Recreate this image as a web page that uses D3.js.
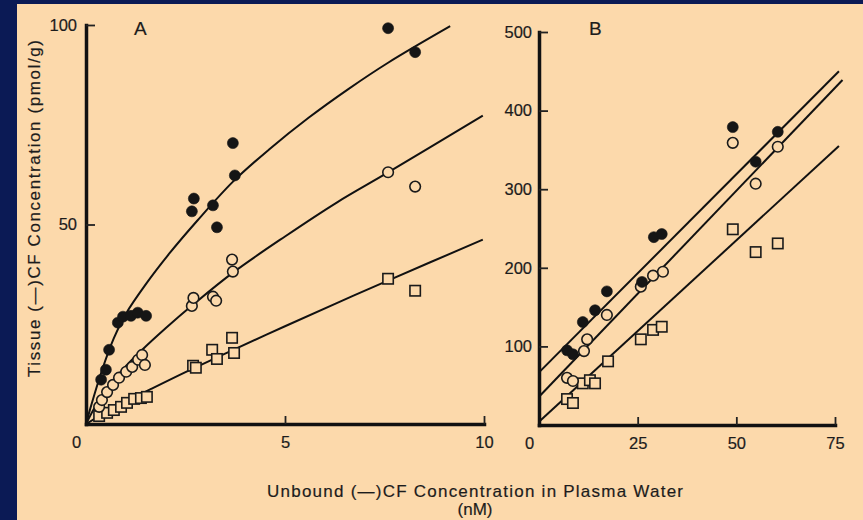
<!DOCTYPE html>
<html>
<head>
<meta charset="utf-8">
<script src="https://cdn.jsdelivr.net/npm/d3@7"></script>
<style>
  html, body { margin: 0; padding: 0; background: #0b1a55; }
  svg { display: block; }
  text { font-family: "Liberation Sans", Arial, sans-serif; fill: #1c1c1c; }
</style>
</head>
<body>
<div id="chart"></div>
<script>
// ---------- DATA ----------
// Panel A (x: unbound conc nM, y: tissue conc pmol/g)
const aFilledX = [0.38, 0.50, 0.58, 0.80, 0.93, 1.13, 1.30, 1.51, 2.66, 2.71, 3.19, 3.29, 3.69, 3.74, 7.59, 8.27];
const aFilledY = [11.1, 13.6, 18.6, 25.4, 26.9, 27.1, 27.9, 27.1, 53.3, 56.5, 54.8, 49.3, 70.4, 62.3, 99.2, 93.2];
const aOpenX = [0.33, 0.40, 0.53, 0.68, 0.83, 1.01, 1.16, 1.31, 1.41, 1.48, 2.66, 2.70, 3.19, 3.27, 3.67, 3.69, 7.59, 8.27];
const aOpenY = [4.3, 6.0, 8.0, 9.8, 11.6, 13.1, 14.3, 16.1, 17.3, 14.8, 29.6, 31.6, 31.9, 30.9, 41.2, 38.2, 63.1, 59.5];
const aSquareX = [0.33, 0.53, 0.70, 0.88, 1.03, 1.21, 1.38, 1.53, 2.69, 2.76, 3.17, 3.29, 3.67, 3.72, 7.59, 8.27];
const aSquareY = [2.0, 2.8, 3.5, 4.3, 5.3, 6.3, 6.5, 6.8, 14.6, 14.1, 18.6, 16.3, 21.6, 17.8, 36.4, 33.4];

// Fitted curves in panel A
const aFilledCurveX = [0, 0.1, 0.4, 0.7, 1.0, 1.5, 2.1, 2.8, 3.7, 4.6, 5.6, 6.6, 7.6, 9.15];
const aFilledCurveY = [0, 3.6, 13.4, 21.5, 27.6, 35.0, 42.8, 51.0, 60.8, 68.8, 76.8, 84.0, 90.6, 99.7];
const aOpenCurveX = [0, 0.3, 0.7, 1.0, 1.4, 2.0, 2.7, 3.7, 5.0, 6.3, 7.6, 9.97];
const aOpenCurveY = [0, 5.5, 11.0, 14.5, 18.5, 24.0, 30.0, 38.0, 47.0, 55.5, 63.1, 77.3];
const aSquareCurveX = [0, 0.5, 1.0, 1.6, 2.5, 3.7, 5.0, 6.3, 7.6, 9.97];
const aSquareCurveY = [0, 2.9, 5.6, 8.6, 13.0, 18.6, 24.5, 30.3, 36.0, 46.2];

// Panel B
const bFilledX = [7.1, 8.6, 11.1, 14.2, 17.2, 26.1, 29.1, 31.1, 49.1, 54.9, 60.5];
const bFilledY = [95, 90, 131, 146, 170, 182, 239, 243, 379, 335, 373];
const bOpenX = [7.1, 8.6, 11.4, 12.2, 17.2, 25.8, 28.9, 31.4, 49.1, 54.9, 60.5];
const bOpenY = [60, 56, 94, 109, 140, 176, 190, 195, 359, 307, 354];
const bSquareX = [7.1, 8.6, 11.1, 12.9, 14.2, 17.5, 25.8, 28.9, 31.1, 49.1, 54.9, 60.5];
const bSquareY = [33, 28, 53, 57, 53, 81, 109, 121, 125, 249, 220, 231];

// Regression lines in panel B: [start, end]
const bFilledLineX = [0, 76.0];
const bFilledLineY = [67, 450];
const bOpenLineX = [0, 76.9];
const bOpenLineY = [36, 439];
const bSquareLineX = [0, 76.0];
const bSquareLineY = [4, 355];

// Ticks and labels
const aXTicks = [0, 5, 10];
const aYTicks = [50, 100];
const bXTicks = [0, 25, 50, 75];
const bYTicks = [100, 200, 300, 400, 500];
const panelLabels = ["A", "B"];
const yTitle = "Tissue (\u2014)CF Concentration (pmol/g)";
const xTitle1 = "Unbound (\u2014)CF Concentration in Plasma Water";
const xTitle2 = "(nM)";

// ---------- DRAWING ----------
const W = 863, H = 520;
const BG = "#fcd9ab";
const INK = "#1e1e1e";
const svg = d3.select("#chart").append("svg").attr("width", W).attr("height", H);
svg.append("rect").attr("width", W).attr("height", H).attr("fill", "#0b1a55");
svg.append("rect").attr("x", 17).attr("y", 4).attr("width", W - 17).attr("height", H - 4).attr("fill", BG);

const xA = d3.scaleLinear().domain([0, 10]).range([86, 484]);
const yA = d3.scaleLinear().domain([0, 100]).range([424, 25]);
const xB = d3.scaleLinear().domain([0, 75]).range([539, 835]);
const yB = d3.scaleLinear().domain([0, 500]).range([425, 32]);

const zip = (xs, ys) => xs.map((x, i) => [x, ys[i]]);

function inkText(sel) {
  return sel.attr("fill", INK).attr("stroke", INK).attr("stroke-width", 0.2)
    .style("font-family", "'Liberation Sans', Arial, sans-serif");
}

function styleAxis(g, zeroShift) {
  g.select(".domain").attr("stroke", "#111").attr("stroke-width", 3.5).attr("stroke-linecap", "square");
  g.selectAll(".tick line").attr("stroke", "#222").attr("stroke-width", 1.8);
  inkText(g.selectAll(".tick text").attr("font-size", 16.5));
  if (zeroShift) {
    g.selectAll(".tick").filter(d => d === 0).select("line").remove();
    g.selectAll(".tick").filter(d => d === 0).select("text").attr("dx", zeroShift);
  }
}

function drawPanel(xs, ys, xTicks, yTicks, yPad, curves, lines, series, label, labelX) {
  const gx = svg.append("g").attr("transform", `translate(0,${ys(0)})`)
    .call(d3.axisBottom(xs).tickValues(xTicks).tickFormat(d3.format("d"))
      .tickSizeInner(-8).tickSizeOuter(0).tickPadding(12));
  styleAxis(gx, -10);
  const gy = svg.append("g").attr("transform", `translate(${xs(0)},0)`)
    .call(d3.axisLeft(ys).tickValues(yTicks).tickFormat(d3.format("d"))
      .tickSizeInner(-9).tickSizeOuter(0).tickPadding(yPad));
  styleAxis(gy, null);

  curves.forEach(c => {
    svg.append("path").datum(c)
      .attr("d", d3.line().x(d => xs(d[0])).y(d => ys(d[1])).curve(d3.curveCatmullRom.alpha(0.5)))
      .attr("fill", "none").attr("stroke", "#111").attr("stroke-width", 2);
  });
  lines.forEach(c => {
    svg.append("path").datum(c)
      .attr("d", d3.line().x(d => xs(d[0])).y(d => ys(d[1])))
      .attr("fill", "none").attr("stroke", "#111").attr("stroke-width", 2);
  });

  // squares
  svg.append("g").selectAll("rect").data(series.square).join("rect")
    .attr("x", d => xs(d[0]) - 5.2).attr("y", d => ys(d[1]) - 5.2)
    .attr("width", 10.4).attr("height", 10.4)
    .attr("fill", BG).attr("stroke", "#1a1a1a").attr("stroke-width", 1.6);
  // open circles
  svg.append("g").selectAll("circle").data(series.open).join("circle")
    .attr("cx", d => xs(d[0])).attr("cy", d => ys(d[1])).attr("r", 5.3)
    .attr("fill", BG).attr("stroke", "#1a1a1a").attr("stroke-width", 1.6);
  // filled circles
  svg.append("g").selectAll("circle").data(series.filled).join("circle")
    .attr("cx", d => xs(d[0])).attr("cy", d => ys(d[1])).attr("r", 5.5)
    .attr("fill", "#151515").attr("stroke", "#151515").attr("stroke-width", 0.6);

  inkText(svg.append("text").attr("x", labelX).attr("y", 35).attr("font-size", 19).text(label));
}

drawPanel(xA, yA, aXTicks, aYTicks, 9,
  [zip(aFilledCurveX, aFilledCurveY), zip(aOpenCurveX, aOpenCurveY), zip(aSquareCurveX, aSquareCurveY)],
  [],
  { filled: zip(aFilledX, aFilledY), open: zip(aOpenX, aOpenY), square: zip(aSquareX, aSquareY) },
  panelLabels[0], 134);

drawPanel(xB, yB, bXTicks, bYTicks, 7,
  [],
  [zip(bFilledLineX, bFilledLineY), zip(bOpenLineX, bOpenLineY), zip(bSquareLineX, bSquareLineY)],
  { filled: zip(bFilledX, bFilledY), open: zip(bOpenX, bOpenY), square: zip(bSquareX, bSquareY) },
  panelLabels[1], 589);

// Axis titles
inkText(svg.append("text")
  .attr("transform", "translate(40,208.5) rotate(-90)")
  .attr("text-anchor", "middle").attr("font-size", 17)
  .attr("textLength", 337).attr("lengthAdjust", "spacing")
  .text(yTitle));
inkText(svg.append("text").attr("x", 475).attr("y", 497)
  .attr("text-anchor", "middle").attr("font-size", 17)
  .attr("textLength", 416).attr("lengthAdjust", "spacing")
  .text(xTitle1));
inkText(svg.append("text").attr("x", 475).attr("y", 515)
  .attr("text-anchor", "middle").attr("font-size", 17)
  .text(xTitle2));
</script>
</body>
</html>
